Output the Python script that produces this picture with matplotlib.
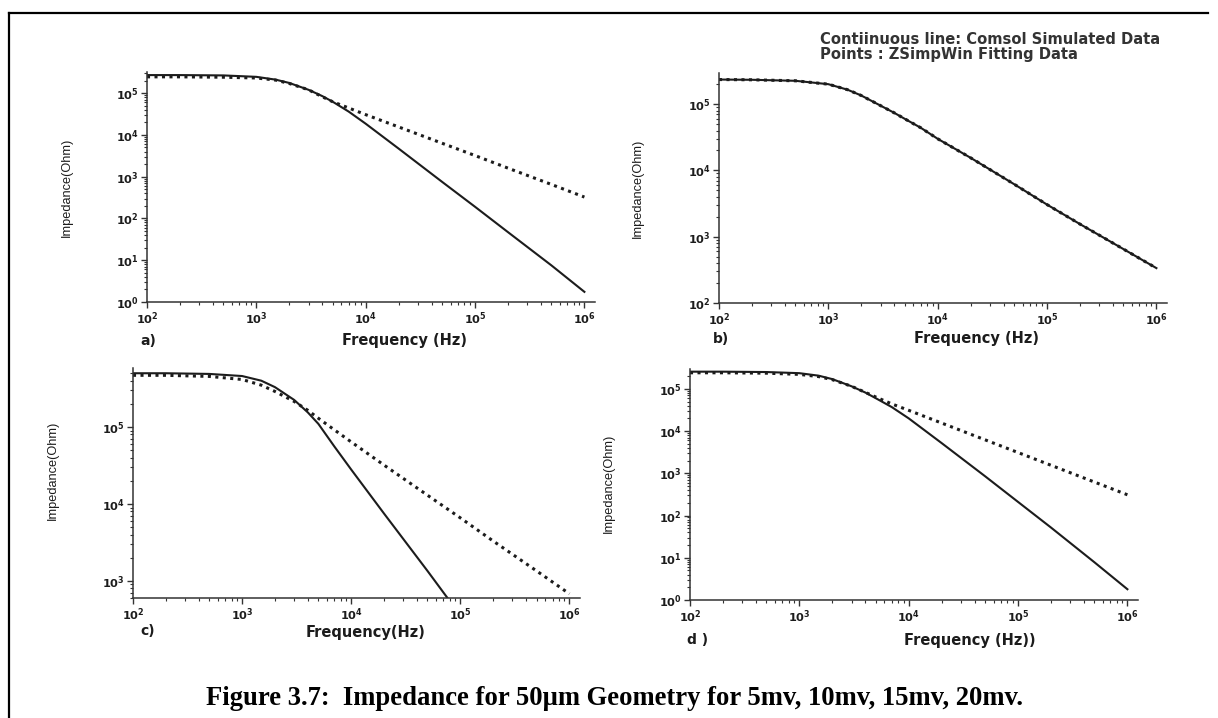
import numpy as np
import matplotlib
matplotlib.use("Agg")
import matplotlib.pyplot as plt
from matplotlib.ticker import LogLocator, FuncFormatter, NullFormatter
from matplotlib.lines import Line2D

W, H = 1218, 718

plt.rcParams['font.family'] = ['DejaVu Sans']
plt.rcParams['mathtext.fontset'] = 'custom'
plt.rcParams['mathtext.bf'] = 'DejaVu Sans:bold'
plt.rcParams['mathtext.rm'] = 'DejaVu Sans'

# frequencies (Hz) where the impedance curves were sampled
freq = [1e2, 2e2, 5e2, 1e3, 1.5e3, 2e3, 3e3, 4e3, 5e3, 7e3,
        1e4, 2e4, 5e4, 1e5, 2e5, 5e5, 1e6]

# a) 5 mV
a_sim = [2.7e5, 2.7e5, 2.65e5, 2.45e5, 2.1e5, 1.75e5, 1.2e5, 8.5e4, 6.2e4, 3.6e4,
         1.85e4, 4.7e3, 7.5e2, 1.9e2, 47, 7.5, 1.75]
a_fit = [2.45e5, 2.45e5, 2.4e5, 2.3e5, 2.05e5, 1.7e5, 1.2e5, 8.2e4, 6.2e4, 4.4e4,
         3.05e4, 1.55e4, 6.3e3, 3.2e3, 1.6e3, 6.5e2, 3.25e2]

# b) 10 mV
b_sim = [2.35e5, 2.33e5, 2.25e5, 2.0e5, 1.65e5, 1.35e5, 9.5e4, 7.4e4, 6.0e4, 4.4e4,
         3.0e4, 1.55e4, 6.2e3, 3.05e3, 1.55e3, 6.5e2, 3.36e2]
b_fit = [2.35e5, 2.33e5, 2.25e5, 2.0e5, 1.65e5, 1.35e5, 9.5e4, 7.4e4, 6.0e4, 4.4e4,
         3.0e4, 1.55e4, 6.2e3, 3.05e3, 1.55e3, 6.5e2, 3.36e2]

# c) 15 mV - simulated curve leaves the axis near 75 kHz
freq_c = [1e2, 2e2, 5e2, 1e3, 1.5e3, 2e3, 3e3, 4e3, 5e3, 7e3,
          1e4, 2e4, 5e4, 7.5e4, 8e4]
c_sim = [5.0e5, 5.0e5, 4.9e5, 4.6e5, 4.0e5, 3.3e5, 2.25e5, 1.55e5, 1.1e5, 5.6e4,
         2.8e4, 7.5e3, 1.35e3, 6.2e2, 5.5e2]
c_fit = [4.7e5, 4.7e5, 4.55e5, 4.15e5, 3.5e5, 2.9e5, 2.15e5, 1.65e5, 1.3e5, 9.2e4,
         6.4e4, 3.2e4, 1.3e4, 6.6e3, 3.3e3, 1.35e3, 6.8e2]

# d) 20 mV
d_sim = [2.55e5, 2.55e5, 2.5e5, 2.35e5, 2.05e5, 1.7e5, 1.15e5, 8.2e4, 6.0e4, 3.7e4,
         2.0e4, 5.2e3, 8.5e2, 2.1e2, 52, 7.8, 1.8]
d_fit = [2.4e5, 2.4e5, 2.35e5, 2.2e5, 1.95e5, 1.65e5, 1.15e5, 8.3e4, 6.4e4, 4.4e4,
         3.1e4, 1.55e4, 6.2e3, 3.1e3, 1.55e3, 6.2e2, 3.1e2]

panels = [
    # box in pixels (left, right, top, bottom), y limits, sim x/y, fit x/y, labels
    dict(box=(147, 595, 72, 302), ylim=(1, 3.2e5), sim=(freq, a_sim), fit=(freq, a_fit),
         tag="a)", tag_xy=(140, 341), xlab="Frequency (Hz)", xlab_xy=(405, 341), ylab_xy=(67, 187)),
    dict(box=(719, 1167, 73, 303), ylim=(1e2, 2.95e5), sim=(freq, b_sim), fit=(freq, b_fit),
         tag="b)", tag_xy=(713, 339), xlab="Frequency (Hz)", xlab_xy=(977, 339), ylab_xy=(638, 188)),
    dict(box=(133, 580, 368, 598), ylim=(6e2, 5.85e5), sim=(freq_c, c_sim), fit=(freq, c_fit),
         tag="c)", tag_xy=(140, 631), xlab="Frequency(Hz)", xlab_xy=(366, 632), ylab_xy=(53, 470)),
    dict(box=(690, 1138, 369, 600), ylim=(1, 2.95e5), sim=(freq, d_sim), fit=(freq, d_fit),
         tag="d )", tag_xy=(687, 640), xlab="Frequency (Hz))", xlab_xy=(970, 640), ylab_xy=(609, 483)),
]

ink = '#1c1c1c'


def fx(x):
    return x / W


def fy(y):
    return 1 - y / H


def pow10(v, _):
    return r'$\mathbf{10^{%d}}$' % round(np.log10(v))


fig = plt.figure(figsize=(W / 100, H / 100), dpi=100)
fig.patch.set_facecolor('white')

for p in panels:
    l, r, t, b = p['box']
    ax = fig.add_axes([fx(l), fy(b), (r - l) / W, (b - t) / H])
    ax.set_xscale('log')
    ax.set_yscale('log')
    ax.set_xlim(1e2, 1.25e6)
    ax.set_ylim(*p['ylim'])

    ax.plot(*p['sim'], color=ink, lw=1.5, solid_joinstyle='round')
    ax.plot(*p['fit'], color=ink, lw=2.2, linestyle=(0, (1, 1.45)), dash_capstyle='butt')

    for s in ['top', 'right']:
        ax.spines[s].set_visible(False)
    for s in ['left', 'bottom']:
        ax.spines[s].set_linewidth(1.1)
        ax.spines[s].set_color('#333333')

    for axis in (ax.xaxis, ax.yaxis):
        axis.set_major_locator(LogLocator(base=10, numticks=20))
        axis.set_minor_locator(LogLocator(base=10, subs=np.arange(2, 10), numticks=20))
        axis.set_major_formatter(FuncFormatter(pow10))
        axis.set_minor_formatter(NullFormatter())

    ax.tick_params(which='major', direction='out', length=4, width=1.0, color='#333333',
                   labelsize=8.2, labelcolor=ink)
    ax.tick_params(which='minor', direction='out', length=2.3, width=0.8, color='#333333')
    ax.tick_params(axis='y', pad=2)
    ax.tick_params(axis='x', pad=2)

    fig.text(fx(p['tag_xy'][0]), fy(p['tag_xy'][1]), p['tag'], fontsize=10,
             fontweight='bold', color=ink, ha='left', va='center')
    fig.text(fx(p['xlab_xy'][0]), fy(p['xlab_xy'][1]), p['xlab'], fontsize=10.5,
             fontweight='bold', color=ink, ha='center', va='center')
    fig.text(fx(p['ylab_xy'][0]), fy(p['ylab_xy'][1]), 'Impedance(Ohm)', fontsize=9.2,
             family=['Liberation Sans Narrow', 'Liberation Sans'], rotation=90,
             color=ink, ha='center', va='center')

fig.text(fx(820), fy(47), 'Contiinuous line: Comsol Simulated Data\nPoints : ZSimpWin Fitting Data',
         fontsize=10.6, fontweight='bold', color='#333333', ha='left', va='center', linespacing=1.0)

fig.text(fx(615), fy(705), 'Figure 3.7:  Impedance for 50\u00b5m Geometry for 5mv, 10mv, 15mv, 20mv.',
         fontsize=19.2, fontweight='bold', family='Liberation Serif', color='black',
         ha='center', va='baseline')

# page frame: top rule and left rule
fig.add_artist(Line2D([fx(9), fx(1208)], [fy(13), fy(13)], color='black', lw=1.6))
fig.add_artist(Line2D([fx(9), fx(9)], [fy(13), 0], color='black', lw=1.6))

fig.savefig('out.png', dpi=100, facecolor='white')
